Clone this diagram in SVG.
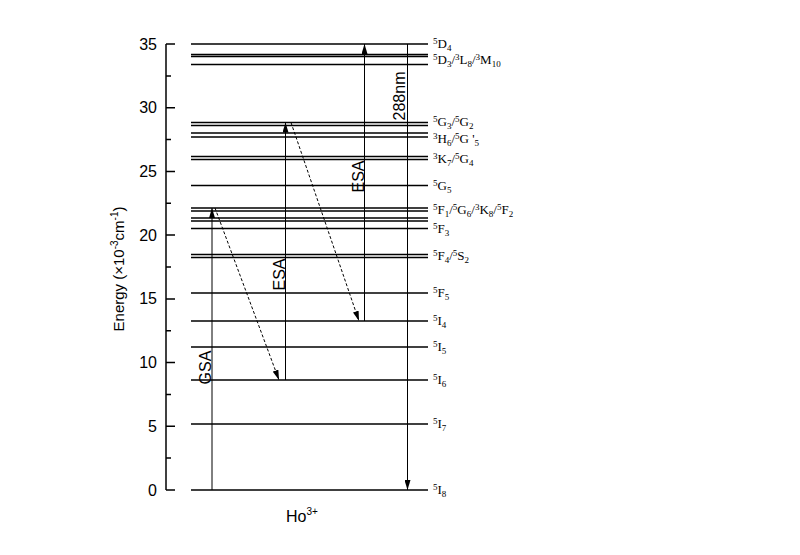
<svg xmlns="http://www.w3.org/2000/svg" width="800" height="555" viewBox="0 0 800 555">
<style>
.lv{stroke:#000;stroke-width:1.7;fill:none}
.ax{stroke:#000;stroke-width:1.5;fill:none}
.tr{stroke:#000;stroke-width:1;fill:none}
.ds{stroke:#000;stroke-width:1;fill:none;stroke-dasharray:3,2}
.tl{font-family:"Liberation Sans",Arial,sans-serif;font-size:16px;fill:#000}
.lb{font-family:"Liberation Serif","Times New Roman",serif;font-size:13px;fill:#000}
.s{font-size:9px}
</style>
<defs>
<marker id="ah" viewBox="0 0 10 6" refX="10" refY="3" markerWidth="10" markerHeight="6" orient="auto" markerUnits="userSpaceOnUse">
<path d="M0,0 L10,3 L0,6 z" fill="#000"/>
</marker>
</defs>
<rect width="800" height="555" fill="#fff"/>

<g id="axis">
<line class="ax" x1="166" y1="44" x2="166" y2="490"/>
<path class="ax" d="M166,490h9M166,426.3h9M166,362.6h9M166,298.9h9M166,235.1h9M166,171.4h9M166,107.7h9M166,44h9"/>
<path class="ax" d="M166,458.1h5M166,394.4h5M166,330.7h5M166,267h5M166,203.3h5M166,139.6h5M166,75.9h5"/>
<g class="tl" text-anchor="end">
<text x="157" y="495.5">0</text>
<text x="157" y="431.8">5</text>
<text x="157" y="368.1">10</text>
<text x="157" y="304.4">15</text>
<text x="157" y="240.6">20</text>
<text x="157" y="176.9">25</text>
<text x="157" y="113.2">30</text>
<text x="157" y="49.5">35</text>
</g>
<text class="tl" transform="translate(124,269) rotate(-90)" text-anchor="middle" style="font-size:15px">Energy (×10<tspan dy="-6" style="font-size:10px">-3</tspan><tspan dy="6">cm</tspan><tspan dy="-6" style="font-size:10px">-1</tspan><tspan dy="6">)</tspan></text>
<text class="tl" x="286" y="522">Ho<tspan dy="-7" style="font-size:10px">3+</tspan></text>
</g>

<g id="level-5I8"><line class="lv" x1="191" y1="490" x2="428" y2="490"/><text class="lb" x="433" y="494"><tspan class="s" dy="-4">5</tspan><tspan dy="4">I</tspan><tspan class="s" dy="3">8</tspan></text></g>
<g id="level-5I7"><line class="lv" x1="191" y1="424" x2="428" y2="424"/><text class="lb" x="433" y="428"><tspan class="s" dy="-4">5</tspan><tspan dy="4">I</tspan><tspan class="s" dy="3">7</tspan></text></g>
<g id="level-5I6"><line class="lv" x1="191" y1="380" x2="428" y2="380"/><text class="lb" x="433" y="384"><tspan class="s" dy="-4">5</tspan><tspan dy="4">I</tspan><tspan class="s" dy="3">6</tspan></text></g>
<g id="level-5I5"><line class="lv" x1="191" y1="347" x2="428" y2="347"/><text class="lb" x="433" y="351"><tspan class="s" dy="-4">5</tspan><tspan dy="4">I</tspan><tspan class="s" dy="3">5</tspan></text></g>
<g id="level-5I4"><line class="lv" x1="191" y1="321" x2="428" y2="321"/><text class="lb" x="433" y="325"><tspan class="s" dy="-4">5</tspan><tspan dy="4">I</tspan><tspan class="s" dy="3">4</tspan></text></g>
<g id="level-5F5"><line class="lv" x1="191" y1="293" x2="428" y2="293"/><text class="lb" x="433" y="297"><tspan class="s" dy="-4">5</tspan><tspan dy="4">F</tspan><tspan class="s" dy="3">5</tspan></text></g>
<g id="level-5F4-5S2"><path class="lv" d="M191,254.5H428M191,257.5H428"/><text class="lb" x="433" y="260"><tspan class="s" dy="-4">5</tspan><tspan dy="4">F</tspan><tspan class="s" dy="3">4</tspan><tspan dy="-3">/</tspan><tspan class="s" dy="-4">5</tspan><tspan dy="4">S</tspan><tspan class="s" dy="3">2</tspan></text></g>
<g id="level-5F3"><line class="lv" x1="191" y1="228.5" x2="428" y2="228.5"/><text class="lb" x="433" y="233"><tspan class="s" dy="-4">5</tspan><tspan dy="4">F</tspan><tspan class="s" dy="3">3</tspan></text></g>
<g id="level-5F1-5G6-3K8-5F2"><path class="lv" d="M191,208H428M191,211H428M191,218H428M191,221H428"/><text class="lb" x="433" y="214"><tspan class="s" dy="-4">5</tspan><tspan dy="4">F</tspan><tspan class="s" dy="3">1</tspan><tspan dy="-3">/</tspan><tspan class="s" dy="-4">5</tspan><tspan dy="4">G</tspan><tspan class="s" dy="3">6</tspan><tspan dy="-3">/</tspan><tspan class="s" dy="-4">3</tspan><tspan dy="4">K</tspan><tspan class="s" dy="3">8</tspan><tspan dy="-3">/</tspan><tspan class="s" dy="-4">5</tspan><tspan dy="4">F</tspan><tspan class="s" dy="3">2</tspan></text></g>
<g id="level-5G5"><line class="lv" x1="191" y1="185.5" x2="428" y2="185.5"/><text class="lb" x="433" y="190"><tspan class="s" dy="-4">5</tspan><tspan dy="4">G</tspan><tspan class="s" dy="3">5</tspan></text></g>
<g id="level-3K7-5G4"><path class="lv" d="M191,156.5H428M191,159.5H428"/><text class="lb" x="433" y="163"><tspan class="s" dy="-4">3</tspan><tspan dy="4">K</tspan><tspan class="s" dy="3">7</tspan><tspan dy="-3">/</tspan><tspan class="s" dy="-4">5</tspan><tspan dy="4">G</tspan><tspan class="s" dy="3">4</tspan></text></g>
<g id="level-3H6-5G5p"><path class="lv" d="M191,133H428M191,137H428"/><text class="lb" x="433" y="143"><tspan class="s" dy="-4">3</tspan><tspan dy="4">H</tspan><tspan class="s" dy="3">6</tspan><tspan dy="-3">/</tspan><tspan class="s" dy="-4">5</tspan><tspan dy="4">G '</tspan><tspan class="s" dy="3">5</tspan></text></g>
<g id="level-5G3-5G2"><path class="lv" d="M191,122.5H428M191,125.5H428"/><text class="lb" x="433" y="125.5"><tspan class="s" dy="-4">5</tspan><tspan dy="4">G</tspan><tspan class="s" dy="3">3</tspan><tspan dy="-3">/</tspan><tspan class="s" dy="-4">5</tspan><tspan dy="4">G</tspan><tspan class="s" dy="3">2</tspan></text></g>
<g id="level-5D3-3L8-3M10"><path class="lv" d="M191,54.5H428M191,56.5H428M191,64.5H428"/><text class="lb" x="433" y="64"><tspan class="s" dy="-4">5</tspan><tspan dy="4">D</tspan><tspan class="s" dy="3">3</tspan><tspan dy="-3">/</tspan><tspan class="s" dy="-4">3</tspan><tspan dy="4">L</tspan><tspan class="s" dy="3">8</tspan><tspan dy="-3">/</tspan><tspan class="s" dy="-4">3</tspan><tspan dy="4">M</tspan><tspan class="s" dy="3">10</tspan></text></g>
<g id="level-5D4"><line class="lv" x1="191" y1="44" x2="428" y2="44"/><text class="lb" x="433" y="48"><tspan class="s" dy="-4">5</tspan><tspan dy="4">D</tspan><tspan class="s" dy="3">4</tspan></text></g>

<g id="connectors">
<line class="tr" x1="212" y1="490" x2="212" y2="208" marker-end="url(#ah)"/>
<line class="ds" x1="215" y1="208" x2="279" y2="380" marker-end="url(#ah)"/>
<line class="tr" x1="285.5" y1="380" x2="285.5" y2="122.5" marker-end="url(#ah)"/>
<line class="ds" x1="291" y1="122.5" x2="359" y2="321" marker-end="url(#ah)"/>
<line class="tr" x1="364.5" y1="321" x2="364.5" y2="44" marker-end="url(#ah)"/>
<line class="tr" x1="407.5" y1="44" x2="407.5" y2="490" marker-end="url(#ah)"/>
<g class="tl" text-anchor="middle">
<text transform="translate(211,367.5) rotate(-90)">GSA</text>
<text transform="translate(284.5,274.5) rotate(-90)">ESA</text>
<text transform="translate(363.5,176.5) rotate(-90)">ESA</text>
<text transform="translate(404.5,96) rotate(-90)">288nm</text>
</g>
</g>
</svg>
